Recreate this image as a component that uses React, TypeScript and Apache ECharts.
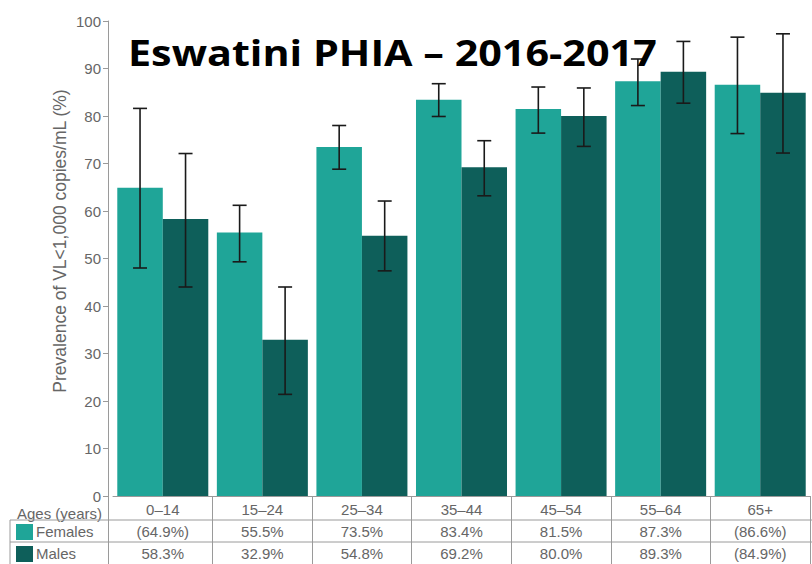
import React, { useEffect, useRef } from "react";
import * as echarts from "echarts";

const categories = ["0–14", "15–24", "25–34", "35–44", "45–54", "55–64", "65+"];
const females = [64.9, 55.5, 73.5, 83.4, 81.5, 87.3, 86.6];
const males = [58.3, 32.9, 54.8, 69.2, 80.0, 89.3, 84.9];
const femaleLabels = ["(64.9%)", "55.5%", "73.5%", "83.4%", "81.5%", "87.3%", "(86.6%)"];
const maleLabels = ["58.3%", "32.9%", "54.8%", "69.2%", "80.0%", "89.3%", "(84.9%)"];
const femaleCILow = [48.0, 49.3, 68.8, 79.9, 76.4, 82.2, 76.3];
const femaleCIHigh = [81.6, 61.2, 78.0, 86.8, 86.1, 92.0, 96.6];
const maleCILow = [44.0, 21.4, 47.4, 63.2, 73.6, 82.7, 72.2];
const maleCIHigh = [72.1, 44.0, 62.1, 74.8, 85.9, 95.7, 97.3];

const FEMALE = "#1fa598";
const MALE = "#0e5f5a";
const GAP = 0.086;
const FONT = "'Liberation Sans', Arial, sans-serif";

function errorSeries(low: number[], high: number[], side: number) {
  return {
    type: "custom",
    xAxisIndex: 0,
    yAxisIndex: 0,
    z: 5,
    data: low.map((l, i) => [i, l, high[i]]),
    encode: { x: 0, y: [1, 2] },
    renderItem: (params: any, api: any) => {
      const idx = api.value(0);
      const lo = api.coord([idx, api.value(1)]);
      const hi = api.coord([idx, api.value(2)]);
      const band = api.size([1, 0])[0];
      const x = lo[0] + (side * band * (1 - GAP)) / 4;
      const cap = 7;
      const style = { stroke: "#1a1a1a", lineWidth: 1.6 };
      return {
        type: "group",
        children: [
          { type: "line", shape: { x1: x, y1: hi[1], x2: x, y2: lo[1] }, style },
          { type: "line", shape: { x1: x - cap, y1: hi[1], x2: x + cap, y2: hi[1] }, style },
          { type: "line", shape: { x1: x - cap, y1: lo[1], x2: x + cap, y2: lo[1] }, style },
        ],
      };
    },
  };
}

export default function App() {
  const ref = useRef<HTMLDivElement>(null);
  useEffect(() => {
    if (!ref.current) return;
    const chart = echarts.init(ref.current, null, { renderer: "svg" });
    const tableAxis = (labels: string[], offset: number) => ({
      type: "category",
      data: labels,
      position: "bottom",
      offset,
      axisLine: { show: false },
      axisTick: { show: false },
      axisLabel: { color: "#666", fontSize: 15, fontFamily: FONT, margin: 6, interval: 0 },
    });
    chart.setOption({
      animation: false,
      backgroundColor: "#ffffff",
      grid: { left: 113, right: 2, top: 21, bottom: 68 },
      xAxis: [
        {
          type: "category",
          data: categories,
          position: "bottom",
          axisLine: { show: true, lineStyle: { color: "#9a9a9a", width: 1 } },
          axisTick: {
            show: true,
            length: 68,
            inside: false,
            interval: (index: number) => index !== 0,
            lineStyle: { color: "#9a9a9a", width: 1 },
          },
          axisLabel: { color: "#666", fontSize: 15, fontFamily: FONT, margin: 6, interval: 0 },
        },
        tableAxis(femaleLabels, 22),
        tableAxis(maleLabels, 44),
      ],
      yAxis: {
        type: "value",
        min: 0,
        max: 100,
        interval: 10,
        offset: 5,
        axisLine: { show: true, lineStyle: { color: "#9a9a9a", width: 1 } },
        axisTick: { show: true, length: 5, lineStyle: { color: "#9a9a9a" } },
        axisLabel: { color: "#666", fontSize: 15, fontFamily: FONT, margin: 7 },
        splitLine: { show: false },
      },
      series: [
        {
          name: "Females",
          type: "bar",
          data: females,
          barGap: "0%",
          barCategoryGap: GAP * 100 + "%",
          itemStyle: { color: FEMALE },
        },
        {
          name: "Males",
          type: "bar",
          data: males,
          barGap: "0%",
          barCategoryGap: GAP * 100 + "%",
          itemStyle: { color: MALE },
        },
        errorSeries(femaleCILow, femaleCIHigh, -1),
        errorSeries(maleCILow, maleCIHigh, 1),
      ],
      graphic: [
        {
          type: "text",
          z: 100,
          x: 128,
          y: 52,
          scaleX: 1.18,
          style: {
            x: 0,
            y: 0,
            text: "Eswatini PHIA – 2016-2017",
            fill: "#000",
            font: "bold 35px 'Open Sans', sans-serif",
            verticalAlign: "middle",
            align: "left",
          },
        },
        {
          type: "text",
          x: 60,
          y: 241,
          rotation: Math.PI / 2,
          style: {
            x: 0,
            y: 0,
            text: "Prevalence of VL<1,000 copies/mL (%)",
            fill: "#666",
            font: "17.5px " + FONT,
            align: "center",
            verticalAlign: "middle",
          },
        },
        {
          type: "text",
          style: {
            x: 102,
            y: 513,
            text: "Ages (years)",
            fill: "#666",
            font: "15px " + FONT,
            align: "right",
            verticalAlign: "middle",
          },
        },
        {
          type: "text",
          style: { x: 36, y: 531, text: "Females", fill: "#666", font: "15px " + FONT, verticalAlign: "middle" },
        },
        {
          type: "text",
          style: { x: 36, y: 553, text: "Males", fill: "#666", font: "15px " + FONT, verticalAlign: "middle" },
        },
        { type: "rect", shape: { x: 16, y: 524, width: 17, height: 16 }, style: { fill: FEMALE } },
        { type: "rect", shape: { x: 16, y: 546, width: 17, height: 16 }, style: { fill: MALE } },
        { type: "line", shape: { x1: 10, y1: 520, x2: 812, y2: 520 }, style: { stroke: "#9a9a9a", lineWidth: 1 } },
        { type: "line", shape: { x1: 10, y1: 542, x2: 812, y2: 542 }, style: { stroke: "#9a9a9a", lineWidth: 1 } },
        { type: "line", shape: { x1: 10, y1: 520, x2: 10, y2: 564 }, style: { stroke: "#9a9a9a", lineWidth: 1 } },
        { type: "line", shape: { x1: 108.5, y1: 496, x2: 108.5, y2: 564 }, style: { stroke: "#9a9a9a", lineWidth: 1 } },
      ],
    });
    return () => chart.dispose();
  }, []);
  return <div ref={ref} style={{ width: 812, height: 564, position: "absolute", left: 0, top: 0 }} />;
}
